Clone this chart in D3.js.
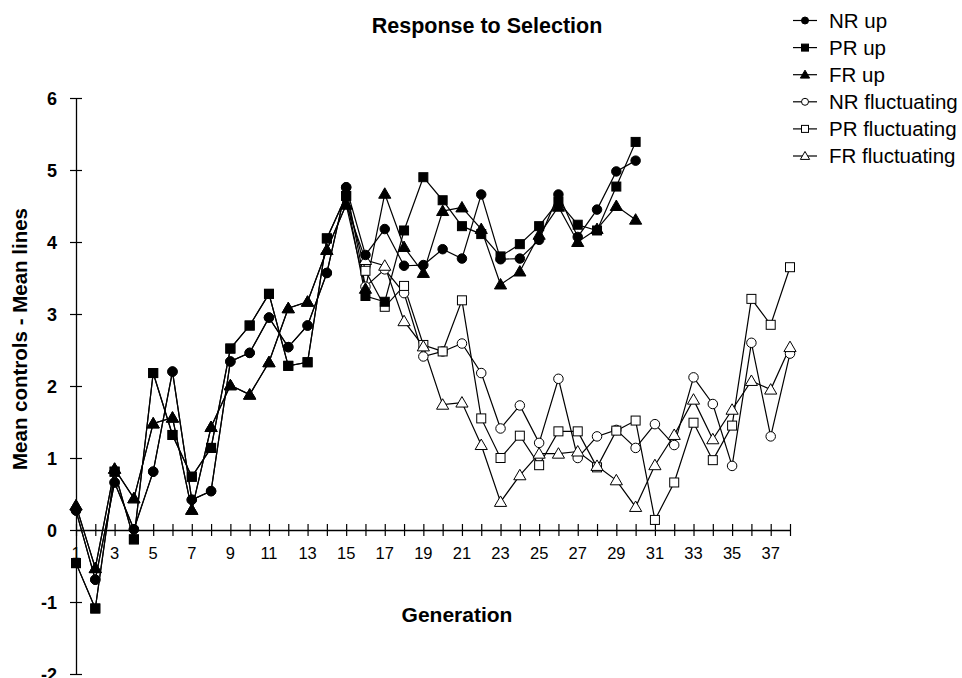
<!DOCTYPE html>
<html><head><meta charset="utf-8">
<script src="https://cdn.jsdelivr.net/npm/d3@7"></script>
<style>body{margin:0;background:#fff}svg{display:block}text{font-family:"Liberation Sans",Arial,sans-serif}</style>
</head><body><svg id="c" width="962" height="678"></svg>
<script>
const generations = [1,2,3,4,5,6,7,8,9,10,11,12,13,14,15,16,17,18,19,20,21,22,23,24,25,26,27,28,29,30,31,32,33,34,35,36,37,38];
const yTicks = [-2,-1,0,1,2,3,4,5,6];
const xTickLabels = [1,3,5,7,9,11,13,15,17,19,21,23,25,27,29,31,33,35,37];
const seriesNames = ["NR up","PR up","FR up","NR fluctuating","PR fluctuating","FR fluctuating"];
const nrUp = [0.27,-0.69,0.66,0.01,0.81,2.20,0.42,0.54,2.34,2.46,2.95,2.54,2.84,3.57,4.76,3.82,4.18,3.67,3.68,3.90,3.77,4.66,3.76,3.77,4.03,4.66,4.07,4.45,4.98,5.13];
const prUp = [-0.46,-1.09,0.81,-0.13,2.18,1.32,0.74,1.14,2.52,2.84,3.28,2.28,2.33,4.05,4.64,3.25,3.17,4.16,4.90,4.58,4.22,4.11,3.80,3.97,4.22,4.56,4.24,4.16,4.77,5.39];
const frUp = [0.34,-0.53,0.85,0.44,1.48,1.56,0.28,1.43,2.01,1.88,2.33,3.08,3.17,3.89,4.52,3.35,4.67,3.93,3.57,4.43,4.48,4.18,3.41,3.59,4.10,4.49,4.00,4.18,4.50,4.31];
const nrFluct = [0.27,-0.69,0.66,0.01,0.81,2.20,0.42,0.54,2.34,2.46,2.95,2.54,2.84,3.57,4.76,3.38,3.62,3.29,2.41,2.48,2.59,2.18,1.41,1.73,1.21,2.10,1.00,1.30,1.39,1.14,1.47,1.18,2.12,1.75,0.89,2.60,1.30,2.45];
const prFluct = [-0.46,-1.09,0.81,-0.13,2.18,1.32,0.74,1.14,2.52,2.84,3.28,2.28,2.33,4.05,4.64,3.60,3.10,3.39,2.57,2.48,3.19,1.55,1.00,1.31,0.90,1.37,1.37,0.87,1.38,1.52,0.14,0.66,1.49,0.97,1.45,3.21,2.85,3.65];
const frFluct = [0.34,-0.53,0.85,0.44,1.48,1.56,0.28,1.43,2.01,1.88,2.33,3.08,3.17,3.89,4.52,3.75,3.67,2.90,2.55,1.74,1.77,1.18,0.39,0.76,1.06,1.06,1.09,0.89,0.69,0.32,0.90,1.32,1.81,1.26,1.67,2.07,1.95,2.54];

const svg = d3.select("#c");
const x = d3.scaleLinear().domain([1,38]).range([76,790]);
const y = d3.scaleLinear().domain([-2,6]).range([674,98]);

const series = [
  {name:seriesNames[0], vals:nrUp, shape:"circle", filled:true},
  {name:seriesNames[1], vals:prUp, shape:"square", filled:true},
  {name:seriesNames[2], vals:frUp, shape:"triangle", filled:true},
  {name:seriesNames[3], vals:nrFluct, shape:"circle", filled:false},
  {name:seriesNames[4], vals:prFluct, shape:"square", filled:false},
  {name:seriesNames[5], vals:frFluct, shape:"triangle", filled:false}
];

function drawMarker(g, shape, filled, cx, cy, s) {
  const fill = filled ? "#000" : "#fff";
  if (shape === "circle") {
    g.append("circle").attr("cx",cx).attr("cy",cy).attr("r",s/2)
      .attr("fill",fill).attr("stroke","#000").attr("stroke-width",1);
  } else if (shape === "square") {
    g.append("rect").attr("x",cx-s/2).attr("y",cy-s/2).attr("width",s).attr("height",s)
      .attr("fill",fill).attr("stroke","#000").attr("stroke-width",1);
  } else {
    const h = s*0.95;
    g.append("path").attr("d",`M${cx},${cy-h*0.6}L${cx+s*0.58},${cy+h*0.45}L${cx-s*0.58},${cy+h*0.45}Z`)
      .attr("fill",fill).attr("stroke","#000").attr("stroke-width",1);
  }
}

// X axis at y=0
const xAxis = d3.axisBottom(x).tickValues(generations).tickSize(0).tickFormat("");
const xg = svg.append("g").attr("transform",`translate(0,${y(0)})`).call(xAxis);
xg.select(".domain").attr("stroke","#000").attr("stroke-width",1.3);
xg.selectAll(".tick").append("line").attr("y1",-6).attr("y2",6).attr("stroke","#000").attr("stroke-width",1.2);
xg.selectAll(".xl").data(xTickLabels).enter().append("text")
  .attr("x",d=>x(d)).attr("y",29).attr("text-anchor","middle")
  .attr("font-size",16.5).attr("fill","#000").text(d=>d);

// Y axis
const yAxis = d3.axisLeft(y).tickValues(yTicks).tickSize(0).tickFormat("");
const yg = svg.append("g").attr("transform",`translate(${x(1)},0)`).call(yAxis);
yg.select(".domain").attr("stroke","#000").attr("stroke-width",1.3);
yg.selectAll(".tick").append("line").attr("x1",-6).attr("x2",6).attr("stroke","#000").attr("stroke-width",1.2);
yg.selectAll(".tick").append("text").attr("x",-19).attr("dy","0.35em").attr("text-anchor","end")
  .attr("font-size",18).attr("font-weight","bold").attr("fill","#000").text(d=>d);

// Lines and markers: fluctuating first, up on top
const line = d3.line().x((d,i)=>x(generations[i])).y(d=>y(d));
const order = [3,4,5,0,1,2];
order.forEach(k=>{
  const s = series[k];
  svg.append("path").datum(s.vals).attr("d",line).attr("fill","none")
    .attr("stroke","#000").attr("stroke-width",1.2);
});
order.forEach(k=>{
  const s = series[k];
  const g = svg.append("g");
  s.vals.forEach((v,i)=>drawMarker(g, s.shape, s.filled, x(generations[i]), y(v), s.shape==="circle"?9.5:(s.shape==="square"?9:10.5)));
});

// Titles
svg.append("text").attr("x",487).attr("y",33).attr("text-anchor","middle")
  .attr("font-size",21.5).attr("font-weight","bold").text("Response to Selection");
svg.append("text").attr("x",457).attr("y",622).attr("text-anchor","middle")
  .attr("font-size",21).attr("font-weight","bold").text("Generation");
svg.append("text").attr("transform","translate(27,339) rotate(-90)").attr("text-anchor","middle")
  .attr("font-size",20.5).attr("font-weight","bold").text("Mean controls - Mean lines");

// Legend
const lg = svg.append("g");
series.forEach((s,i)=>{
  const ly = 20.5 + i*27.1;
  lg.append("line").attr("x1",793).attr("x2",817).attr("y1",ly).attr("y2",ly).attr("stroke","#000").attr("stroke-width",1.2);
  drawMarker(lg, s.shape, s.filled, 805, ly, s.shape==="triangle"?8:7);
  lg.append("text").attr("x",829).attr("y",ly).attr("dy","0.36em").attr("font-size",20.5).text(s.name);
});
</script></body></html>
